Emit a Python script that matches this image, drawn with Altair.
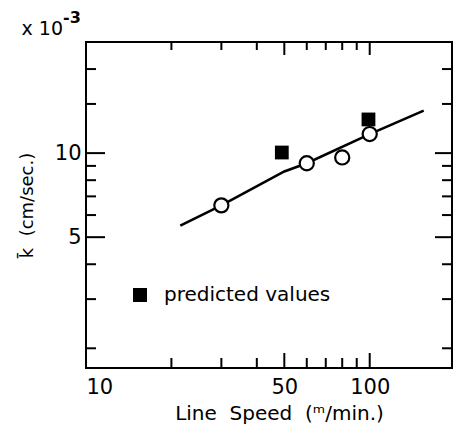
import altair as alt
import pandas as pd

FONT = "DejaVu Sans"
NB = "\u00a0"

# measured data (circles)
meas_speed = [30, 60, 80, 100]
meas_k = [6.5, 9.2, 9.65, 11.7]

# predicted values (squares)
pred_speed = [49, 99]
pred_k = [10.05, 13.2]

# fitted curve
fit_speed = [21.5, 30, 50, 60, 100, 155]
fit_k = [5.5, 6.5, 8.6, 9.2, 11.7, 14.2]

X_MIN, X_MAX = 10, 195
Y_MIN, Y_MAX = 1.7, 25

x_labels = [10, 50, 100]
y_labels = [5, 10]
x_major_ticks = [50, 100]
x_minor_ticks = [20, 30, 40, 60, 70, 80, 90]
y_major_ticks = [5, 10]
y_minor_ticks = [2, 3, 4, 6, 7, 8, 9, 15, 20]

xs = alt.Scale(type="log", domain=[X_MIN, X_MAX], nice=False)
ys = alt.Scale(type="log", domain=[Y_MIN, Y_MAX], nice=False)

xaxis = alt.Axis(values=x_labels, format="d", ticks=False, domain=False, grid=False,
                 labelFontSize=21, labelPadding=8, labelColor="black", labelFont=FONT,
                 title=f"Line{NB}{NB}Speed{NB}{NB}(ᵐ/min.)", titleFont=FONT, titleFontSize=20,
                 titleFontWeight="normal", titleColor="black", titlePadding=6, titleX=193)
yaxis = alt.Axis(values=y_labels, format="d", ticks=False, domain=False, grid=False,
                 labelFontSize=21, labelPadding=5, labelColor="black", labelFont=FONT,
                 title=f"k̄{NB}{NB}(cm/sec.)", titleFont=FONT, titleFontSize=18,
                 titleFontWeight="normal", titleColor="black", titlePadding=18)

fit_df = pd.DataFrame({"speed": fit_speed, "k": fit_k})
meas_df = pd.DataFrame({"speed": meas_speed, "k": meas_k})
pred_df = pd.DataFrame({"speed": pred_speed, "k": pred_k, "series": ["predicted values"] * len(pred_k)})

line = alt.Chart(fit_df).mark_line(color="black", strokeWidth=2.6).encode(
    x=alt.X("speed:Q", scale=xs, axis=xaxis),
    y=alt.Y("k:Q", scale=ys, axis=yaxis),
)

circles = alt.Chart(meas_df).mark_point(shape="circle", filled=False, fill="white",
                                         stroke="black", strokeWidth=2.2, size=200, opacity=1).encode(
    x=alt.X("speed:Q", scale=xs), y=alt.Y("k:Q", scale=ys))

squares = alt.Chart(pred_df).mark_point(filled=True, color="black", size=190, opacity=1).encode(
    x=alt.X("speed:Q", scale=xs), y=alt.Y("k:Q", scale=ys),
    shape=alt.Shape("series:N", scale=alt.Scale(range=["square"]),
                    legend=alt.Legend(title=None, orient="none", legendX=44, legendY=243,
                                      symbolSize=196, symbolFillColor="black",
                                      symbolStrokeColor="black", symbolStrokeWidth=0,
                                      labelFontSize=20, labelFont=FONT, labelColor="black",
                                      labelOffset=14, labelLimit=400, padding=0)),
)

def ticks(vals, side, length):
    if side in ("bottom", "top"):
        df = pd.DataFrame({"speed": vals, "k": [Y_MIN if side == "bottom" else Y_MAX] * len(vals)})
        off = -length / 2 if side == "bottom" else length / 2
        m = alt.Chart(df).mark_tick(orient="vertical", size=length, thickness=2, color="black",
                                    yOffset=off, opacity=1)
    else:
        df = pd.DataFrame({"k": vals, "speed": [X_MIN if side == "left" else X_MAX] * len(vals)})
        off = length / 2 if side == "left" else -length / 2
        m = alt.Chart(df).mark_tick(orient="horizontal", size=length, thickness=2, color="black",
                                    xOffset=off, opacity=1)
    return m.encode(x=alt.X("speed:Q", scale=xs), y=alt.Y("k:Q", scale=ys))

tick_layers = [
    ticks(x_major_ticks, "bottom", 15), ticks(x_minor_ticks, "bottom", 10),
    ticks(x_major_ticks, "top", 13), ticks(x_minor_ticks, "top", 8),
    ticks(y_major_ticks, "left", 19), ticks(y_minor_ticks, "left", 10),
    ticks(y_major_ticks, "right", 17), ticks(y_minor_ticks, "right", 10),
]

mult = alt.Chart(pd.DataFrame({"t": ["x 10"]})).mark_text(
    font=FONT, fontSize=19, align="right", baseline="alphabetic", color="black").encode(
    text="t:N", x=alt.value(-23), y=alt.value(-7))
expo = alt.Chart(pd.DataFrame({"t": ["-3"]})).mark_text(
    font=FONT, fontSize=16, fontWeight="bold", align="left", baseline="alphabetic", color="black").encode(
    text="t:N", x=alt.value(-23), y=alt.value(-19))

chart = alt.layer(line, circles, squares, *tick_layers, mult, expo).properties(
    width=366, height=326,
    background="white",
    autosize=alt.AutoSizeParams(type="none"),
    padding={"left": 86, "top": 42, "right": 2, "bottom": 57},
).configure_view(stroke="black", strokeWidth=2)

chart.save("out.html", embed_options={"renderer": "svg", "actions": False})
